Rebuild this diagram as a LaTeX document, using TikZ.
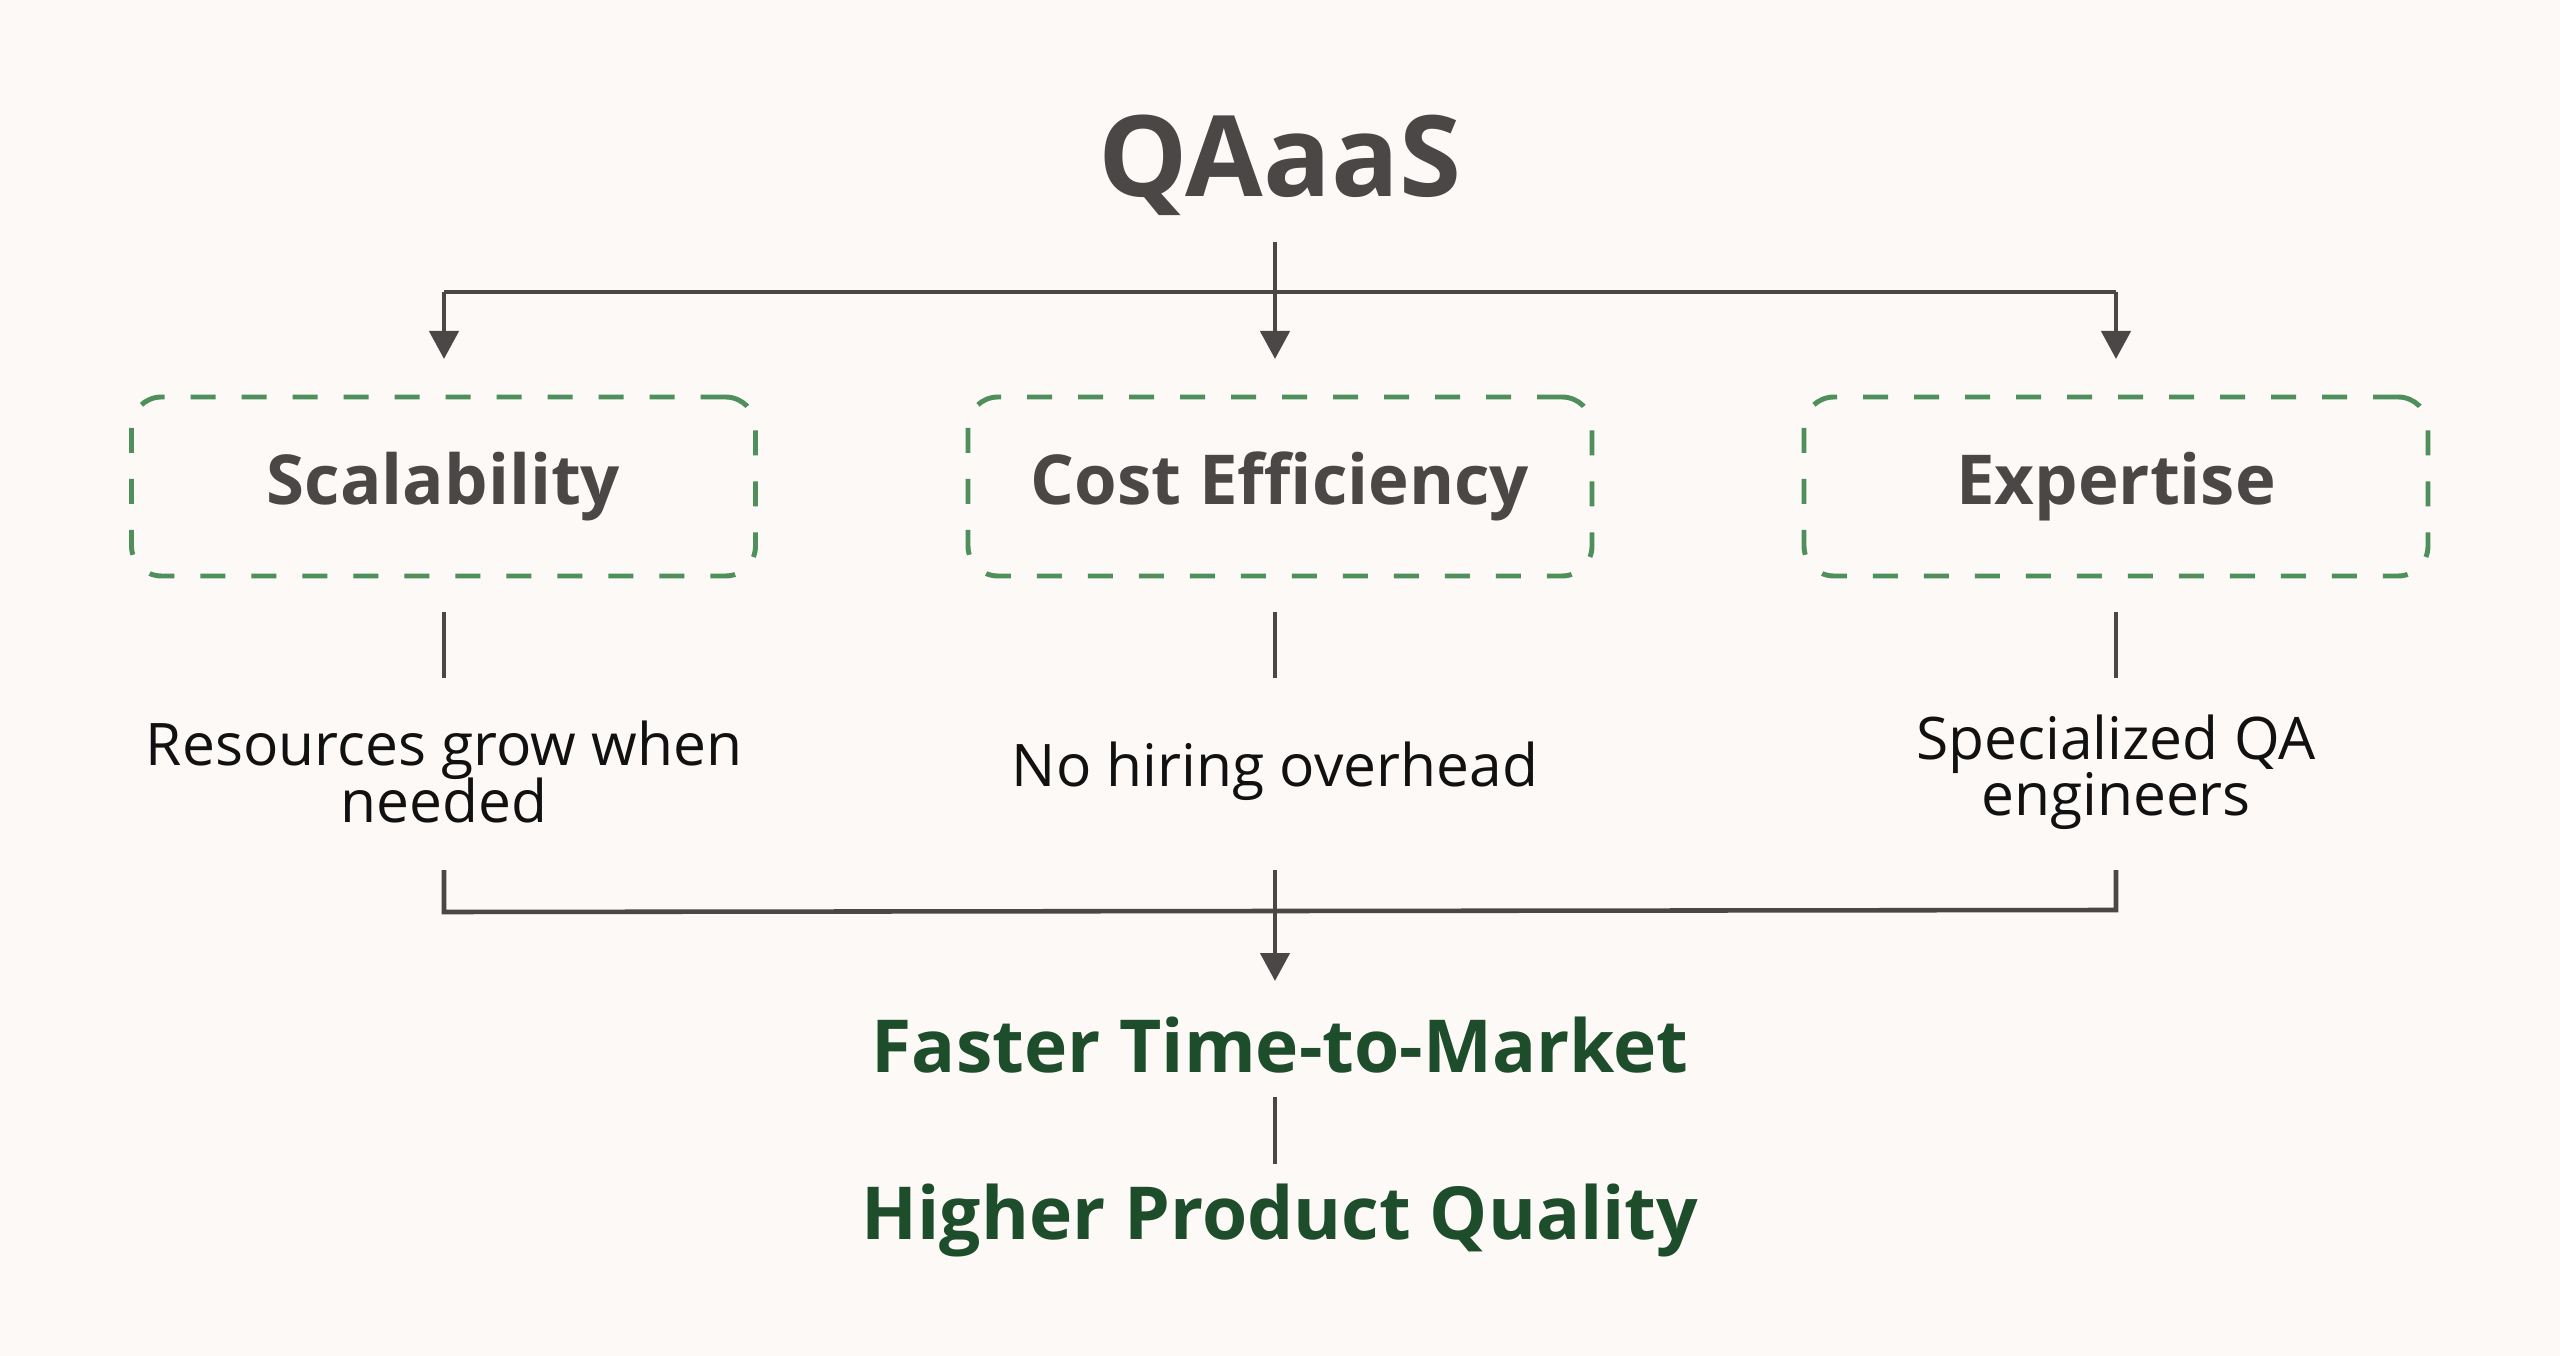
\documentclass[tikz,border=0pt]{standalone}
\usepackage{fontspec}
\setmainfont{Open Sans}
\usetikzlibrary{arrows.meta}
\definecolor{bgc}{HTML}{FCF9F7}
\definecolor{ink}{HTML}{4B4747}
\definecolor{dgreen}{HTML}{4E8F5B}
\definecolor{fgreen}{HTML}{1E4D2B}
\definecolor{txt}{HTML}{111111}
\tikzset{
  conn/.style={draw=ink, line width=1.3pt},
  thin/.style={draw=ink, line width=0.9pt},
  arr/.style={conn, -{Triangle[length=2.8mm,width=2.9mm]}},
  catbox/.style={draw=dgreen, line width=1.4pt, dash pattern=on 2.5mm off 2.6mm, rounded corners=3mm, minimum width=62.4mm, minimum height=17.9mm, text=ink, font=\fontsize{19.6}{23}\selectfont\bfseries},
  desc/.style={text=txt, align=center, font=\fontsize{16.7}{15.2}\selectfont},
  result/.style={text=fgreen, font=\fontsize{20.8}{25}\selectfont\bfseries},
}
\begin{document}
\begin{tikzpicture}[x=0.1mm, y=-0.1mm]
\useasboundingbox (0,0) rectangle (2560,1356);
\fill[bgc] (0,0) rectangle (2560,1356);
\node[text=ink, font=\fontsize{32}{36}\selectfont\bfseries] (title) at (1280,165) {QAaaS};
\node[catbox] (b1) at (443.5,486.5) {Scalability};
\node[catbox] (b2) at (1280,486.5) {Cost Efficiency};
\node[catbox] (b3) at (2116,486.5) {Expertise};
\coordinate (top) at (1275,242);
\coordinate (j0) at (1275,292);
\coordinate (jl) at (444,292);
\coordinate (jr) at (2116,292);
\coordinate (t1) at (444,359);
\coordinate (t2) at (1275,359);
\coordinate (t3) at (2116,359);
\draw[conn] (jl) -- (jr);
\draw[arr] (top) -- (t2);
\draw[arr] (jl) -- (t1);
\draw[arr] (jr) -- (t3);
\node[desc] (d1) at (444,772) {Resources grow when\\[-1.4pt]needed};
\node[desc] (d2) at (1275,771) {No hiring overhead};
\node[desc] (d3) at (2116,772) {Specialized QA\\[-1.4pt]engineers};
\coordinate (s1a) at (444,612); \coordinate (s1b) at (444,678);
\coordinate (s2a) at (1275,612); \coordinate (s2b) at (1275,678);
\coordinate (s3a) at (2116,612); \coordinate (s3b) at (2116,678);
\draw[thin] (s1a) -- (s1b);
\draw[thin] (s2a) -- (s2b);
\draw[thin] (s3a) -- (s3b);
\coordinate (u1) at (444,870); \coordinate (v1) at (444,912);
\coordinate (u3) at (2116,870); \coordinate (v3) at (2116,910);
\coordinate (u2) at (1275,870); \coordinate (v2) at (1275,981);
\draw[conn] (u1) -- (v1) -- (v3) -- (u3);
\draw[arr] (u2) -- (v2);
\node[result] (r1) at (1280,1045) {Faster Time-to-Market};
\node[result] (r2) at (1280,1221) {Higher Product Quality};
\coordinate (m1) at (1275,1097); \coordinate (m2) at (1275,1164);
\draw[thin] (m1) -- (m2);
\end{tikzpicture}
\end{document}
